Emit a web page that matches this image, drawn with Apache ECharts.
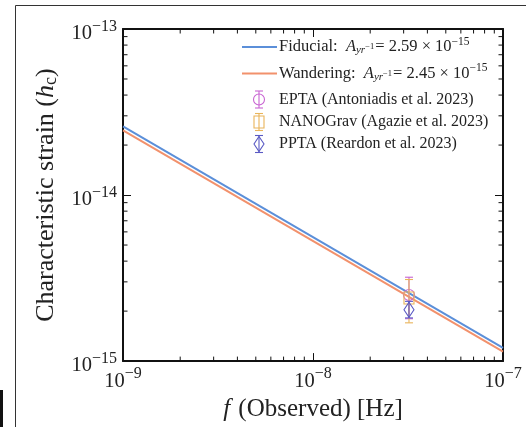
<!DOCTYPE html>
<html><head><meta charset="utf-8">
<script src="https://cdn.jsdelivr.net/npm/echarts@6/dist/echarts.min.js"></script>
<style>html,body{margin:0;padding:0;background:#fff}#c{width:526px;height:427px}</style>
</head><body><div id="c"></div><script>
const SERIF = '"Liberation Serif", "DejaVu Serif", serif';

// Axis ranges (log-log)
const freqRange = [1e-9, 1e-7];
const strainRange = [1e-15, 1e-13];
const freqMinorTicks = [2e-9, 3e-9, 4e-9, 5e-9, 6e-9, 7e-9, 8e-9, 9e-9,
                        2e-8, 3e-8, 4e-8, 5e-8, 6e-8, 7e-8, 8e-8, 9e-8];
const strainMinorTicks = [2e-15, 3e-15, 4e-15, 5e-15, 6e-15, 7e-15, 8e-15, 9e-15,
                          2e-14, 3e-14, 4e-14, 5e-14, 6e-14, 7e-14, 8e-14, 9e-14];

// Power-law background spectra (straight lines in log-log)
const lineFreqs = [1e-9, 1e-7];
const fiducialStrain = [2.59e-14, 1.20e-15];
const wanderingStrain = [2.45e-14, 1.14e-15];

// PTA measurements at f = 1/yr
const ptaNames = ['EPTA (Antoniadis et al. 2023)', 'NANOGrav (Agazie et al. 2023)', 'PPTA (Reardon et al. 2023)'];
const ptaFreq = [3.2e-8, 3.2e-8, 3.2e-8];
const ptaStrain = [2.5e-15, 2.4e-15, 2.04e-15];
const ptaLower = [1.8e-15, 1.7e-15, 1.82e-15];
const ptaUpper = [3.2e-15, 3.1e-15, 2.29e-15];

const colFid = '#5b8fd9', colWan = '#f2916c';
const ptaColors = ['#c864d2', '#e9b45a', '#5a5ac4'];
const ptaShapes = ['circle', 'square', 'diamond'];

function markerShape(kind, cx, cy, color) {
  const style = { stroke: color, fill: 'none', lineWidth: 1.1 };
  if (kind === 'circle') return { type: 'circle', shape: { cx, cy, r: 5.5 }, style };
  if (kind === 'square') return { type: 'rect', shape: { x: cx - 5, y: cy - 6, width: 10, height: 12 }, style };
  return { type: 'polygon', shape: { points: [[cx, cy - 7.5], [cx + 5, cy], [cx, cy + 7.5], [cx - 5, cy]] }, style };
}
function errorbarGroup(kind, cx, cy, yTop, yBot, color) {
  const ls = { stroke: color, lineWidth: 1.1 };
  return { type: 'group', children: [
    { type: 'line', shape: { x1: cx, y1: yTop, x2: cx, y2: yBot }, style: ls },
    { type: 'line', shape: { x1: cx - 4, y1: yTop, x2: cx + 4, y2: yTop }, style: ls },
    { type: 'line', shape: { x1: cx - 4, y1: yBot, x2: cx + 4, y2: yBot }, style: ls },
    markerShape(kind, cx, cy, color)
  ]};
}

const expLabel = v => '{b|10}{s|−' + Math.abs(Math.round(Math.log10(v))) + '}';
const labelRich = {
  b: { fontFamily: SERIF, fontSize: 20.5, color: '#222' },
  s: { fontFamily: SERIF, fontSize: 16, color: '#222', padding: [0, 0, 15, 0] }
};
const axisLineStyle = { color: '#111', width: 2 };

function logAxis(range, extra) {
  return Object.assign({
    type: 'log', logBase: 10, min: range[0], max: range[1],
    axisLine: { show: true, onZero: false, lineStyle: axisLineStyle },
    axisTick: { show: true, inside: true, length: 8, lineStyle: { color: '#111', width: 1 } },
    splitLine: { show: false }, minorTick: { show: false }
  }, extra);
}

const minorTickSeries = (axis) => ({
  type: 'custom', xAxisIndex: 0, yAxisIndex: 0, silent: true, clip: false, z: 5,
  data: axis === 'x' ? freqMinorTicks.map(v => [v, strainRange[0]]) : strainMinorTicks.map(v => [freqRange[0], v]),
  renderItem: (params, api) => {
    const cs = params.coordSys;
    const p = api.coord([api.value(0), api.value(1)]);
    const st = { stroke: '#111', lineWidth: 1 };
    const L = 4.5;
    if (axis === 'x') {
      return { type: 'group', children: [
        { type: 'line', shape: { x1: p[0], y1: cs.y + cs.height, x2: p[0], y2: cs.y + cs.height - L }, style: st },
        { type: 'line', shape: { x1: p[0], y1: cs.y, x2: p[0], y2: cs.y + L }, style: st }
      ]};
    }
    return { type: 'group', children: [
      { type: 'line', shape: { x1: cs.x, y1: p[1], x2: cs.x + L, y2: p[1] }, style: st },
      { type: 'line', shape: { x1: cs.x + cs.width, y1: p[1], x2: cs.x + cs.width - L, y2: p[1] }, style: st }
    ]};
  }
});

const ptaSeries = ptaNames.map((name, i) => ({
  type: 'custom', name, xAxisIndex: 0, yAxisIndex: 0, z: 4 + i,
  data: [[ptaFreq[i], ptaStrain[i], ptaLower[i], ptaUpper[i]]],
  renderItem: (params, api) => {
    const c = api.coord([api.value(0), api.value(1)]);
    const lo = api.coord([api.value(0), api.value(2)]);
    const hi = api.coord([api.value(0), api.value(3)]);
    return errorbarGroup(ptaShapes[i], c[0], c[1], hi[1], lo[1], ptaColors[i]);
  }
}));

// Legend drawn as graphics
const legendX = 242, textX = 279;
const legRows = [47, 73.5, 99.5, 122, 144];
const legRich = {
  r: { fontFamily: SERIF, fontSize: 16.5, fill: '#222' },
  i: { fontFamily: SERIF, fontSize: 16.5, fontStyle: 'italic', fill: '#222' },
  sb: { fontFamily: SERIF, fontSize: 11, fontStyle: 'italic', fill: '#222', padding: [7, 0, 0, 0] },
  sbs: { fontFamily: SERIF, fontSize: 8.5, fill: '#222', padding: [0, 1, 0, 0] },
  sp: { fontFamily: SERIF, fontSize: 11.5, fill: '#222', padding: [0, 0, 11, 0] }
};
const legendItems = [];
[['Fiducial:  ', '2.59', colFid], ['Wandering:  ', '2.45', colWan]].forEach((d, k) => {
  legendItems.push({ type: 'line', shape: { x1: legendX, y1: legRows[k], x2: legendX + 35, y2: legRows[k] }, style: { stroke: d[2], lineWidth: 2 } });
  legendItems.push({ type: 'text', x: textX, y: legRows[k], style: {
    text: '{r|' + d[0] + '}{i|A}{sb|yr}{sbs|−1}{r|= ' + d[1] + ' × 10}{sp|−15}',
    rich: legRich, verticalAlign: 'middle', align: 'left' } });
});
ptaNames.forEach((name, i) => {
  const y = legRows[2 + i];
  legendItems.push(errorbarGroup(ptaShapes[i], 259, y, y - 8.5, y + 8.5, ptaColors[i]));
  legendItems.push({ type: 'text', x: textX, y, style: { text: name, fontFamily: SERIF, fontSize: 16, fill: '#222', verticalAlign: 'middle', align: 'left' } });
});

const chart = echarts.init(document.getElementById('c'), null, { renderer: 'canvas' });
chart.setOption({
  animation: false,
  backgroundColor: '#fff',
  grid: { left: 123, right: 23, top: 29, bottom: 60.5 },
  xAxis: [
    logAxis(freqRange, {
      position: 'bottom',
      axisLabel: { formatter: expLabel, rich: labelRich, margin: 5 },
      name: '{i|f}{r| (Observed) [Hz]}', nameLocation: 'middle', nameGap: 30,
      nameTextStyle: { rich: {
        i: { fontFamily: SERIF, fontSize: 25, fontStyle: 'italic', color: '#222', padding: [0, 2, 0, 0] },
        r: { fontFamily: SERIF, fontSize: 25, color: '#222' } } }
    }),
    logAxis(freqRange, { position: 'top', axisLabel: { show: false } })
  ],
  yAxis: [
    logAxis(strainRange, {
      position: 'left',
      axisLabel: { formatter: expLabel, rich: labelRich, margin: 6, padding: [10, 0, 0, 0] },
      name: '{r|Characteristic strain (}{i|h}{sb|c}{r|)}', nameLocation: 'middle', nameGap: 63, nameRotate: 90,
      nameTextStyle: { rich: {
        r: { fontFamily: SERIF, fontSize: 26, color: '#222' },
        i: { fontFamily: SERIF, fontSize: 26, fontStyle: 'italic', color: '#222' },
        sb: { fontFamily: SERIF, fontSize: 18, color: '#222', padding: [10, 0, 0, 0] } } }
    }),
    logAxis(strainRange, { position: 'right', axisLabel: { show: false } })
  ],
  series: [
    { type: 'line', name: 'Fiducial', xAxisIndex: 0, yAxisIndex: 0, showSymbol: false, z: 3,
      data: lineFreqs.map((f, i) => [f, fiducialStrain[i]]), lineStyle: { color: colFid, width: 2 } },
    { type: 'line', name: 'Wandering', xAxisIndex: 0, yAxisIndex: 0, showSymbol: false, z: 2,
      data: lineFreqs.map((f, i) => [f, wanderingStrain[i]]), lineStyle: { color: colWan, width: 2 } },
    ...ptaSeries,
    minorTickSeries('x'),
    minorTickSeries('y')
  ],
  graphic: [
    { type: 'line', shape: { x1: 15.5, y1: 5.5, x2: 526, y2: 5.5 }, style: { stroke: '#333', lineWidth: 1 } },
    { type: 'line', shape: { x1: 15.5, y1: 5.5, x2: 15.5, y2: 427 }, style: { stroke: '#333', lineWidth: 1 } },
    { type: 'rect', shape: { x: 0, y: 390, width: 3, height: 37 }, style: { fill: '#111' } },
    ...legendItems
  ]
});
</script></body></html>
